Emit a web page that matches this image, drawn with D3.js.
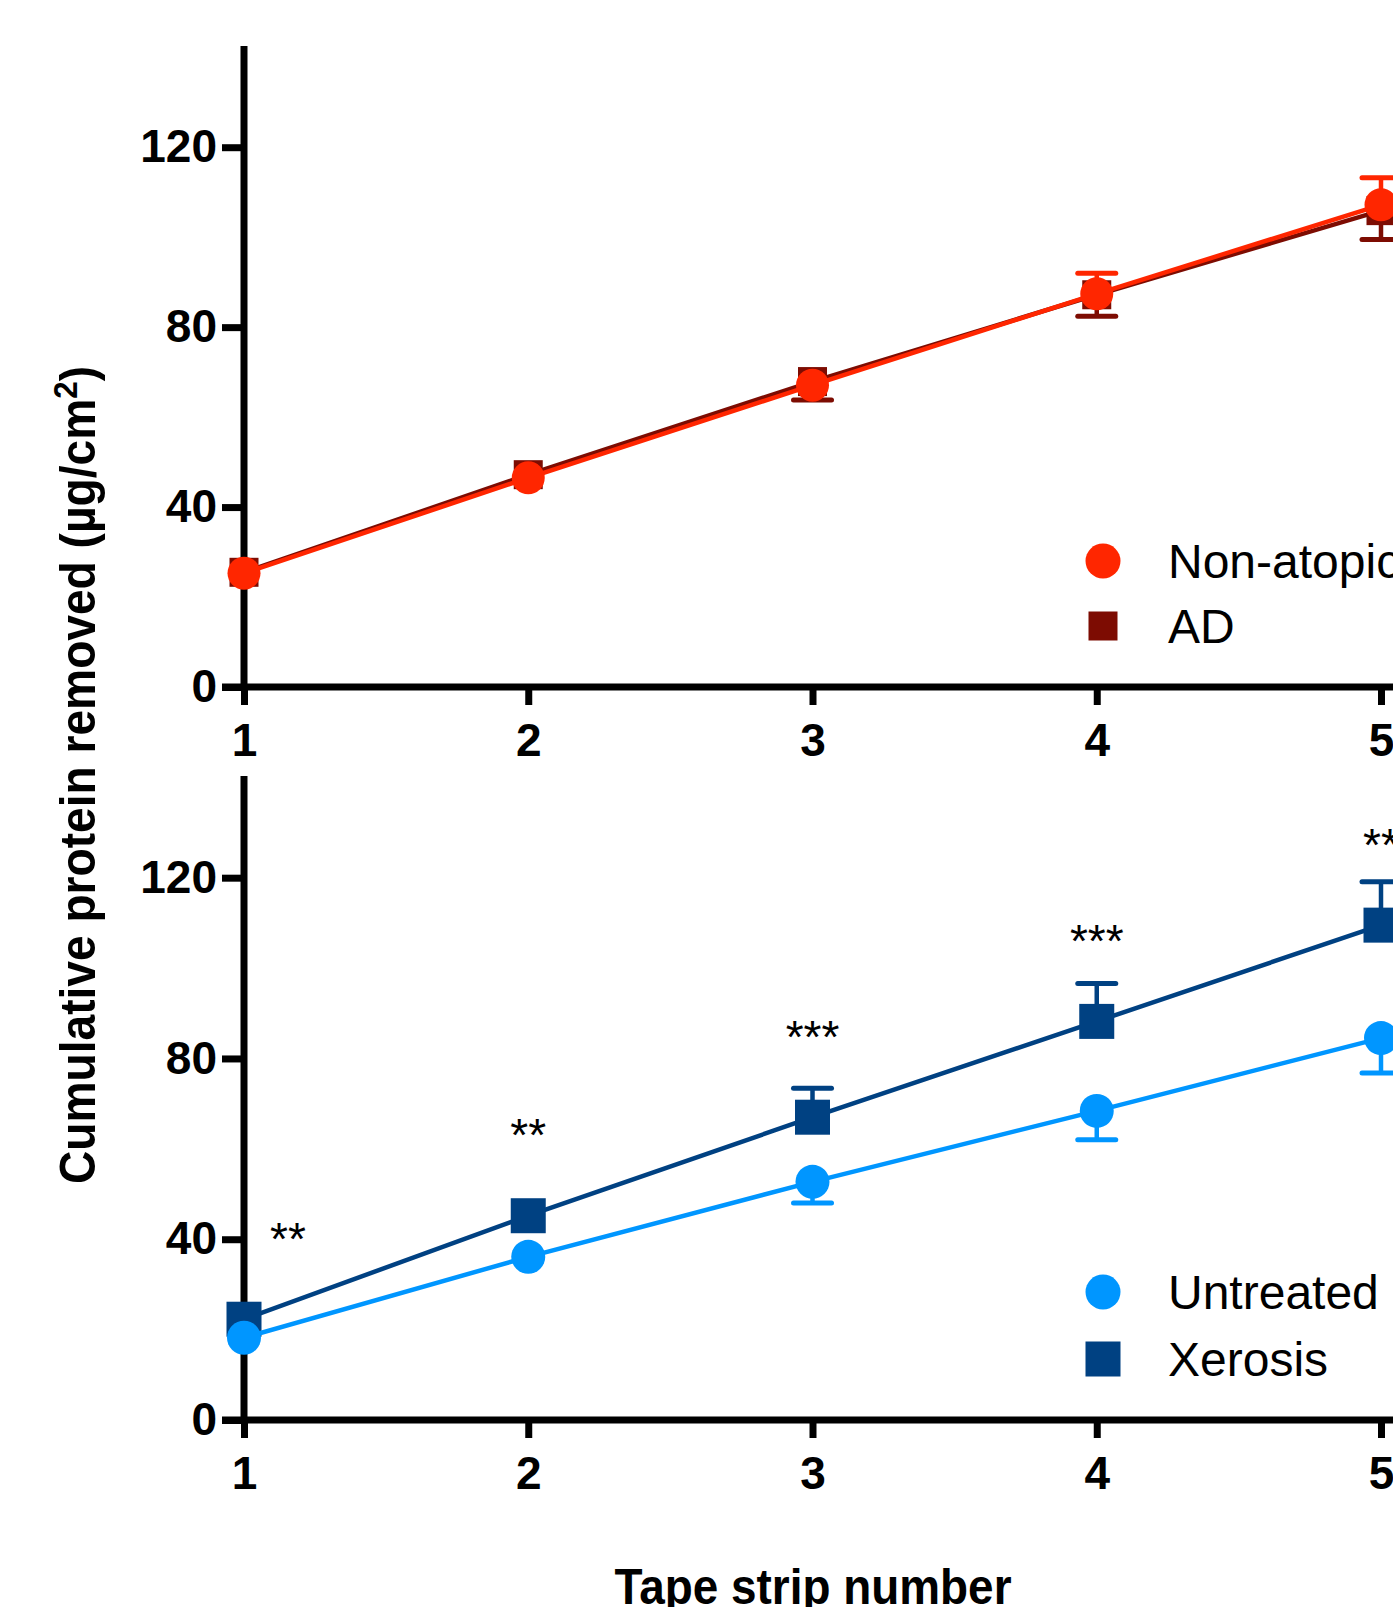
<!DOCTYPE html>
<html>
<head>
<meta charset="utf-8">
<script src="https://cdn.jsdelivr.net/npm/d3@7"></script>
<style>
  body { margin: 0; background: #fff; }
  svg { display: block; }
</style>
</head>
<body>
<script>
const svgWidth = 1393;
const svgHeight = 1607;

// values (mean +/- SEM, ug/cm2)
const strips = [1, 2, 3, 4, 5];
const yTicks = [0, 40, 80, 120];
const nonAtopicMean = [25.3, 46.5, 67.1, 87.4, 107.2];
const nonAtopicSem  = [1.5, 2.5, 3.0, 4.6, 6.0];
const adMean        = [25.5, 47.2, 67.9, 87.2, 105.9];
const adSem         = [1.5, 2.5, 4.1, 4.8, 6.4];
const untreatedMean = [18.2, 36.1, 52.7, 68.4, 84.5];
const untreatedSem  = [1.2, 2.0, 4.7, 6.4, 7.7];
const xerosisMean   = [22.3, 45.2, 67.0, 88.2, 109.5];
const xerosisSem    = [1.5, 2.5, 6.4, 8.4, 9.6];
const sigLabels     = ["**", "**", "***", "***", "**"];

const font = "'Liberation Sans', Arial, Helvetica, sans-serif";
const axisWidth = 7;
const yTickLen = 22;
const xTickLen = 18;
const capHalf = 19; //half width of error bar caps
const starOffset = 20; //stars sit this far (in data units) above the xerosis mean

const svg = d3.select("body").append("svg")
            .attr("width", svgWidth)
            .attr("height", svgHeight);

const xScale = d3.scaleLinear().domain([1, 5]).range([244, 1381]);
const yTop = d3.scaleLinear().domain([0, 142.5]).range([687, 46]);
const yBottom = d3.scaleLinear().domain([0, 142.5]).range([1420, 776]);

createAxes(yTop);
createAxes(yBottom);

// top panel, AD underneath the non-atopic series
drawSeries(yTop, adMean, adSem, -1, "#7d0c02", "square", 29);
drawSeries(yTop, nonAtopicMean, nonAtopicSem, 1, "#ff2600", "circle", 16.5);
// bottom panel
drawSeries(yBottom, xerosisMean, xerosisSem, 1, "#004182", "square", 35);
drawSeries(yBottom, untreatedMean, untreatedSem, -1, "#0096ff", "circle", 17);

drawStars();

drawLegend([
  {label: "Non-atopic", color: "#ff2600", shape: "circle", size: 17.5, y: 561},
  {label: "AD", color: "#7d0c02", shape: "square", size: 29, y: 626}
]);
drawLegend([
  {label: "Untreated", color: "#0096ff", shape: "circle", size: 17.5, y: 1292},
  {label: "Xerosis", color: "#004182", shape: "square", size: 35, y: 1359}
]);

// axis titles
svg.append("text")
   .attr("transform", "translate(95,775) rotate(-90)")
   .attr("text-anchor", "middle")
   .attr("font-family", font)
   .attr("font-weight", "bold")
   .attr("font-size", 50)
   .attr("textLength", 818)
   .attr("lengthAdjust", "spacingAndGlyphs")
   .text("Cumulative protein removed (µg/cm")
   .append("tspan").attr("font-size", 34).attr("dy", -18).text("2")
   .select(function() { return this.parentNode; })
   .append("tspan").attr("dy", 18).text(")");

svg.append("text")
   .attr("x", 813)
   .attr("y", 1604)
   .attr("text-anchor", "middle")
   .attr("font-family", font)
   .attr("font-weight", "bold")
   .attr("font-size", 50)
   .attr("textLength", 397)
   .attr("lengthAdjust", "spacingAndGlyphs")
   .text("Tape strip number");


function createAxes(yScale) {
  const y0 = yScale(0);
  const yAxis = d3.axisLeft(yScale).tickValues(yTicks)
                  .tickSize(yTickLen).tickSizeOuter(0).tickPadding(5);
  const gy = svg.append("g")
                .attr("transform", "translate(" + xScale(1) + ",0)")
                .call(yAxis);
  const xAxis = d3.axisBottom(xScale).tickValues(strips)
                  .tickSize(xTickLen).tickSizeOuter(0).tickPadding(18)
                  .tickFormat(d3.format("d"));
  const gx = svg.append("g")
                .attr("transform", "translate(0," + y0 + ")")
                .call(xAxis);
  // x axis runs from the end of the y ticks off the right edge (figure is cropped)
  gx.select(".domain").attr("d", "M" + (xScale(1) - yTickLen) + ",0H" + (svgWidth + 10));
  gy.select(".domain").attr("d", "M0," + y0 + "V" + yScale.range()[1]);
  [gx, gy].forEach(function(g) {
    g.selectAll("path, line").attr("stroke", "#000").attr("stroke-width", axisWidth);
    g.selectAll("text")
     .attr("fill", "#000")
     .attr("font-family", font)
     .attr("font-weight", "bold")
     .attr("font-size", 46);
  });
}

function drawSeries(yScale, means, sems, dir, color, shape, size) {
  const pts = strips.map(function(s, i) { return [s, means[i], sems[i]]; });
  const line = d3.line()
                 .x(function(d) { return xScale(d[0]); })
                 .y(function(d) { return yScale(d[1]); });
  svg.append("path").attr("d", line(pts))
     .attr("stroke", color)
     .attr("stroke-width", 4.5)
     .attr("fill", "none");
  const g = svg.append("g");
  // like prism: bars that would end inside the symbol are not drawn
  const half = shape == "circle" ? size : size / 2;
  const shown = pts.filter(function(d) {
    return Math.abs(yScale(d[1] + d[2]) - yScale(d[1])) > half;
  });
  //error bars only go one way (up or down)
  g.selectAll(".bar").data(shown).enter().append("line")
   .attr("x1", function(d) { return xScale(d[0]); })
   .attr("x2", function(d) { return xScale(d[0]); })
   .attr("y1", function(d) { return yScale(d[1]); })
   .attr("y2", function(d) { return yScale(d[1] + dir * d[2]); })
   .attr("stroke", color)
   .attr("stroke-width", 4.5);
  g.selectAll(".cap").data(shown).enter().append("line")
   .attr("x1", function(d) { return xScale(d[0]) - capHalf; })
   .attr("x2", function(d) { return xScale(d[0]) + capHalf; })
   .attr("y1", function(d) { return yScale(d[1] + dir * d[2]); })
   .attr("y2", function(d) { return yScale(d[1] + dir * d[2]); })
   .attr("stroke", color)
   .attr("stroke-width", 5)
   .attr("stroke-linecap", "round");
  if (shape == "circle") {
    g.selectAll(".pt").data(pts).enter().append("circle")
     .attr("cx", function(d) { return xScale(d[0]); })
     .attr("cy", function(d) { return yScale(d[1]); })
     .attr("r", size)
     .attr("fill", color);
  } else {
    g.selectAll(".pt").data(pts).enter().append("rect")
     .attr("x", function(d) { return xScale(d[0]) - size / 2; })
     .attr("y", function(d) { return yScale(d[1]) - size / 2; })
     .attr("width", size)
     .attr("height", size)
     .attr("fill", color);
  }
}

function drawStars() {
  svg.append("g").selectAll("text").data(sigLabels).enter().append("text")
     .attr("x", function(d, i) { return xScale(strips[i]) + (i == 0 ? 44 : 0); }) //first one nudged off the axis
     .attr("y", function(d, i) { return yBottom(xerosisMean[i] + starOffset) + 26; })
     .attr("text-anchor", "middle")
     .attr("font-family", font)
     .attr("font-size", 46)
     .text(function(d) { return d; });
}

function drawLegend(rows) {
  const lx = 1103;
  const g = svg.append("g");
  rows.forEach(function(r) {
    if (r.shape == "circle") {
      g.append("circle").attr("cx", lx).attr("cy", r.y).attr("r", r.size).attr("fill", r.color);
    } else {
      g.append("rect").attr("x", lx - r.size / 2).attr("y", r.y - r.size / 2)
       .attr("width", r.size).attr("height", r.size).attr("fill", r.color);
    }
    g.append("text")
     .attr("x", lx + 65)
     .attr("y", r.y)
     .attr("dy", "0.36em")
     .attr("font-family", font)
     .attr("font-size", 48)
     .attr("fill", "#000")
     .text(r.label);
  });
}
</script>
</body>
</html>
